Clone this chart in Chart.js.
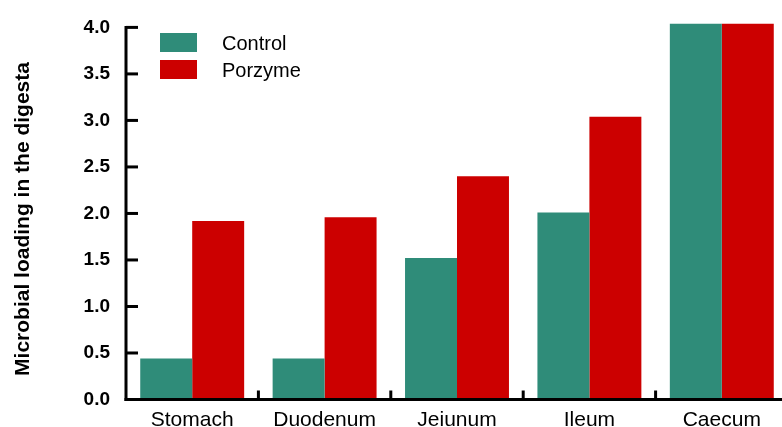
<!DOCTYPE html>
<html>
<head>
<meta charset="utf-8">
<title>Microbial loading in the digesta</title>
<script src="https://cdn.jsdelivr.net/npm/chart.js@4/dist/chart.umd.min.js"></script>
<style>
  html, body { margin: 0; padding: 0; background: #fff; overflow: hidden; }
  #chartBox { width: 790px; height: 427px; }
</style>
</head>
<body>
<div id="chartBox"><canvas id="barChart" width="790" height="427"></canvas></div>
<script>
// values
var categories = ['Stomach', 'Duodenum', 'Jeiunum', 'Ileum', 'Caecum'];
var seriesNames = ['Control', 'Porzyme'];
var controlValues = [0.44, 0.44, 1.52, 2.01, 4.04];
var porzymeValues = [1.92, 1.96, 2.40, 3.04, 4.04];
var yTickValues = [0, 0.5, 1.0, 1.5, 2.0, 2.5, 3.0, 3.5, 4.0];
var yTitle = 'Microbial loading in the digesta';

var GREEN = '#2f8c79';
var RED = '#cc0000';
var FONT = "'Liberation Sans', Arial, Helvetica, sans-serif";

// axis lines, inward ticks, y title and the legend are drawn here
var axisMarks = {
  id: 'axisMarks',
  afterDatasetsDraw: function(chart) {
    var ctx = chart.ctx;
    var xs = chart.scales.x;
    var ys = chart.scales.y;
    var area = chart.chartArea;
    ctx.save();
    ctx.strokeStyle = '#000';
    ctx.lineWidth = 3;
    ctx.lineCap = 'butt';

    // y axis + ticks pointing right
    ctx.beginPath();
    ctx.moveTo(area.left, area.top - 1.5);
    ctx.lineTo(area.left, area.bottom + 1.5);
    ctx.stroke();
    ys.ticks.forEach(function(t) {
      var py = ys.getPixelForValue(t.value);
      ctx.beginPath();
      ctx.moveTo(area.left, py);
      ctx.lineTo(area.left + 12, py);
      ctx.stroke();
    });

    // x axis + ticks between the groups
    ctx.beginPath();
    ctx.moveTo(area.left - 1.5, area.bottom);
    ctx.lineTo(chart.width, area.bottom);
    ctx.stroke();
    for (var i = 0; i < categories.length - 1; i++) {
      var px = xs.getPixelForValue(i + 0.5);
      ctx.beginPath();
      ctx.moveTo(px, area.bottom);
      ctx.lineTo(px, area.bottom - 9);
      ctx.stroke();
    }

    // rotated y title
    ctx.save();
    ctx.translate(23, 219);
    ctx.rotate(-Math.PI / 2);
    ctx.font = 'bold 21px ' + FONT;
    ctx.fillStyle = '#000';
    ctx.textAlign = 'center';
    ctx.textBaseline = 'middle';
    ctx.fillText(yTitle, 0, 0);
    ctx.restore();

    // legend
    ctx.font = '20px ' + FONT;
    ctx.textBaseline = 'middle';
    ctx.textAlign = 'left';
    chart.data.datasets.forEach(function(ds, k) {
      var top = 33 + k * 27;
      ctx.fillStyle = ds.backgroundColor;
      ctx.fillRect(160, top, 37, 19);
      ctx.fillStyle = '#000';
      ctx.fillText(ds.label, 222, top + 11);
    });
    ctx.restore();
  }
};

new Chart(document.getElementById('barChart'), {
  type: 'bar',
  data: {
    labels: categories,
    datasets: [{
      label: seriesNames[0],
      data: controlValues,
      backgroundColor: GREEN,
      clip: false
    }, {
      label: seriesNames[1],
      data: porzymeValues,
      backgroundColor: RED,
      clip: false
    }]
  },
  options: {
    responsive: false,
    animation: false,
    devicePixelRatio: 1,
    categoryPercentage: 0.785,
    barPercentage: 1.0,
    layout: { padding: { left: 0, right: 2, top: 26, bottom: 0 } },
    plugins: {
      legend: { display: false },
      tooltip: { enabled: false }
    },
    scales: {
      x: {
        offset: true,
        grid: { display: false, drawTicks: false },
        border: { display: false },
        ticks: {
          color: '#000',
          padding: 8,
          maxRotation: 0,
          font: { family: FONT, size: 21 }
        },
        afterFit: function(scale) { scale.height = 27.5; }
      },
      y: {
        min: 0,
        max: 4,
        grid: { display: false, drawTicks: false },
        border: { display: false },
        afterBuildTicks: function(scale) {
          scale.ticks = yTickValues.map(function(v) { return { value: v }; });
        },
        ticks: {
          color: '#000',
          padding: 16,
          font: { family: FONT, size: 19, weight: 'bold' },
          callback: function(v) { return Number(v).toFixed(1); }
        },
        afterFit: function(scale) { scale.width = 126; }
      }
    }
  },
  plugins: [axisMarks]
});
</script>
</body>
</html>
